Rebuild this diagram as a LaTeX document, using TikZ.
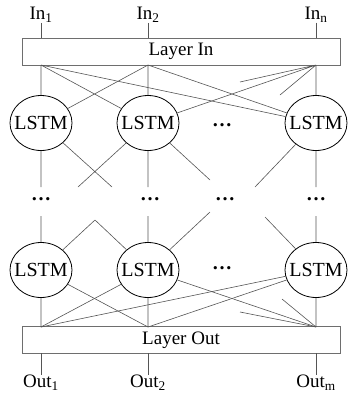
\documentclass[tikz,border=0pt]{standalone}
\usepackage{fontspec}
\setmainfont{Liberation Serif}
\usetikzlibrary{shapes.geometric}
\definecolor{wire}{RGB}{85, 85, 85}
\definecolor{frame}{RGB}{110, 110, 110}

\tikzset{
    cell/.style   = {ellipse, draw=black, thick, minimum width=62pt, minimum height=55pt, inner sep=0pt, font=\fontsize{20}{22}\selectfont},
    layer/.style  = {rectangle, draw=frame, minimum width=318pt, minimum height=27pt, inner sep=0pt, font=\fontsize{19}{22}\selectfont},
    port/.style   = {inner sep=0pt, font=\fontsize{19}{22}\selectfont},
    gap/.style    = {inner sep=0pt, font=\fontsize{20}{22}\selectfont\bfseries},
    wire/.style   = {draw=wire, line width=0.6pt}
}

\begin{document}
\begin{tikzpicture}[x=1pt, y=-1pt]
    \useasboundingbox (0,0) rectangle (348,394);
    % inputs and input layer
    \node[port]  (in1)   at ( 41, 15) {In\textsubscript{1}};
    \node[port]  (in2)   at (148, 15) {In\textsubscript{2}};
    \node[port]  (inn)   at (316, 15) {In\textsubscript{n}};
    \node[layer] (layin) at (181, 51.5) {Layer In};
    \coordinate (ia1) at ( 41, 38);  \coordinate (ia2) at (148, 38);  \coordinate (ia3) at (316, 38);
    \coordinate (ib1) at ( 41, 65);  \coordinate (ib2) at (148, 65);  \coordinate (ib3) at (316, 65);
    % first LSTM row
    \node[cell]  (c11)   at ( 41,123) {\makebox[0pt]{LSTM}};
    \node[cell]  (c12)   at (148,123) {\makebox[0pt]{LSTM}};
    \node[gap]   (g1)    at (222,125) {\dots};
    \node[cell]  (c13)   at (316,123) {\makebox[0pt]{LSTM}};
    % dots row
    \node[gap]   (d1)    at ( 41,199) {\dots};
    \node[gap]   (d2)    at (150,199) {\dots};
    \node[gap]   (d3)    at (225,199) {\dots};
    \node[gap]   (d4)    at (316,199) {\dots};
    % last LSTM row
    \node[cell]  (c21)   at ( 41,270) {\makebox[0pt]{LSTM}};
    \node[cell]  (c22)   at (148,270) {\makebox[0pt]{LSTM}};
    \node[gap]   (g2)    at (222,268) {\dots};
    \node[cell]  (c23)   at (316,270) {\makebox[0pt]{LSTM}};
    % output layer and outputs
    \node[layer] (layout) at (181,340) {Layer Out};
    \coordinate (oa1) at ( 41,327);  \coordinate (oa2) at (148,327);  \coordinate (oa3) at (316,327);
    \coordinate (ob1) at ( 41,353);  \coordinate (ob2) at (148,353);  \coordinate (ob3) at (316,353);
    \node[port]  (out1)  at ( 41,383) {Out\textsubscript{1}};
    \node[port]  (out2)  at (148,383) {Out\textsubscript{2}};
    \node[port]  (outm)  at (316,383) {Out\textsubscript{m}};
    % loose ends
    \coordinate (s1) at (240, 82);   \coordinate (s2) at (280, 95);
    \coordinate (u1) at ( 41,187);   \coordinate (u2) at (112,187);   \coordinate (u3) at ( 78,187);
    \coordinate (u4) at (148,187);   \coordinate (u5) at (210,180);   \coordinate (u6) at (255,187);
    \coordinate (u7) at (316,187);
    \coordinate (v1) at ( 41,216);   \coordinate (v2) at ( 95,220);   \coordinate (v3) at (148,216);
    \coordinate (v4) at (210,212);   \coordinate (v5) at (265,217);   \coordinate (v6) at (316,216);
    \coordinate (s3) at (282,299);   \coordinate (s4) at (240,312);

    \draw[wire] (in1) -- (ia1)  (in2) -- (ia2)  (inn) -- (ia3);
    \draw[wire] (ib1) -- (c11)  (ib1) -- (c12)  (ib1) -- (c13);
    \draw[wire] (ib2) -- (c12)  (ib2) -- (c11)  (ib2) -- (c13);
    \draw[wire] (ib3) -- (c13)  (ib3) -- (c12)  (ib3) -- (s1)  (ib3) -- (s2);
    \draw[wire] (c11) -- (u1)   (c11) -- (u2)   (c12) -- (u3)  (c12) -- (u4)  (c12) -- (u5)  (c13) -- (u6)  (c13) -- (u7);
    \draw[wire] (v1) -- (c21)   (v2) -- (c21)   (v2) -- (c22)  (v3) -- (c22)  (v4) -- (c22)  (v5) -- (c23)  (v6) -- (c23);
    \draw[wire] (c21) -- (oa1)  (c21) -- (oa2);
    \draw[wire] (c22) -- (oa2)  (c22) -- (oa1)  (c22) -- (oa3);
    \draw[wire] (c23) -- (oa3)  (c23) -- (oa1)  (c23) -- (oa2)  (s3) -- (oa3)  (s4) -- (oa3);
    \draw[wire] (ob1) -- (out1) (ob2) -- (out2) (ob3) -- (outm);
\end{tikzpicture}
\end{document}
